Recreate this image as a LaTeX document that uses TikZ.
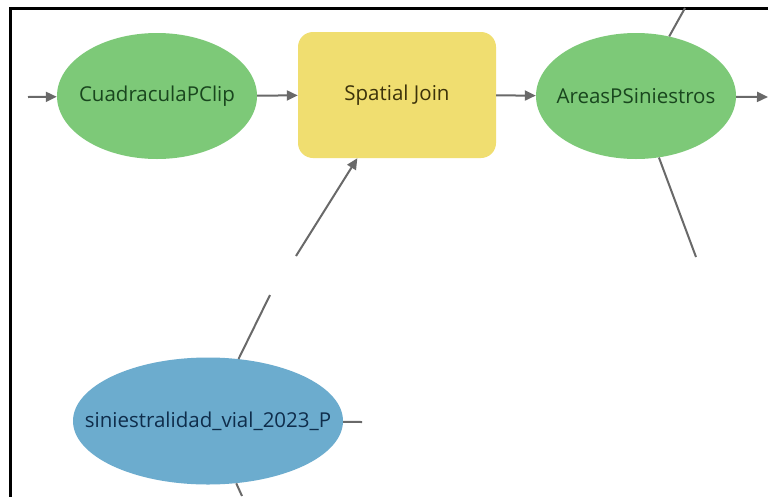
\documentclass[tikz,border=0pt]{standalone}
\usepackage{fontspec}
\setmainfont{Open Sans}
\usetikzlibrary{arrows.meta,shapes.geometric}
\definecolor{gfill}{RGB}{125,201,120}
\definecolor{gtext}{RGB}{25,70,30}
\definecolor{yfill}{RGB}{240,222,112}
\definecolor{ytext}{RGB}{60,50,10}
\definecolor{bfill}{RGB}{108,172,206}
\definecolor{btext}{RGB}{15,45,75}
\definecolor{lgray}{RGB}{105,105,105}
\begin{document}
\begin{tikzpicture}[x=1pt,y=-1pt,
  lbl/.style={font=\fontsize{20.5}{24}\selectfont},
  ell/.style={ellipse,inner sep=0pt,lbl},
  dataG/.style={ell,fill=gfill,text=gtext,minimum width=200pt,minimum height=126pt},
  dataB/.style={ell,fill=bfill,text=btext,minimum width=270pt,minimum height=127pt},
  tool/.style={rectangle,rounded corners=15pt,fill=yfill,text=ytext,inner sep=0pt,lbl,minimum width=198pt,minimum height=126pt},
  conn/.style={draw=lgray,line width=2pt},
  arr/.style={conn,-{Triangle[length=11pt,width=10pt]}}]
\useasboundingbox (0,0) rectangle (768,496);
\fill[white] (0,0) rectangle (768,496);
\draw[line width=3pt,black] (10,497) -- (10,8) -- (768,8);

\node[dataG] (cp) at (157,96) {\makebox[0pt]{CuadraculaPClip}};
\node[tool] (sj) at (397,95) {\makebox[0pt]{\raisebox{-2pt}{Spatial Join}}};
\node[dataG] (ap) at (636,96) {\makebox[0pt]{AreasPSiniestros}};
\node[dataB] (sv) at (208,421) {\makebox[0pt]{siniestralidad\_vial\_2023\_P}};

\coordinate (in) at (28,97);
\coordinate (out) at (768,97);
\coordinate (apT) at (685,8);
\coordinate (apB) at (696,257);
\coordinate (g1) at (270,295);
\coordinate (g2) at (296,256);
\coordinate (svR) at (362,422);
\coordinate (svB) at (242,496);

\draw[arr] (in) -- (cp);
\draw[arr] (cp) -- (sj);
\draw[arr] (sj) -- (ap);
\draw[arr] (ap) -- (out);
\draw[conn] (ap) -- (apT);
\draw[conn] (ap) -- (apB);
\draw[conn] (sv) -- (g1);
\draw[arr] (g2) -- (sj);
\draw[conn] (sv) -- (svR);
\draw[conn] (sv) -- (svB);
\end{tikzpicture}
\end{document}
